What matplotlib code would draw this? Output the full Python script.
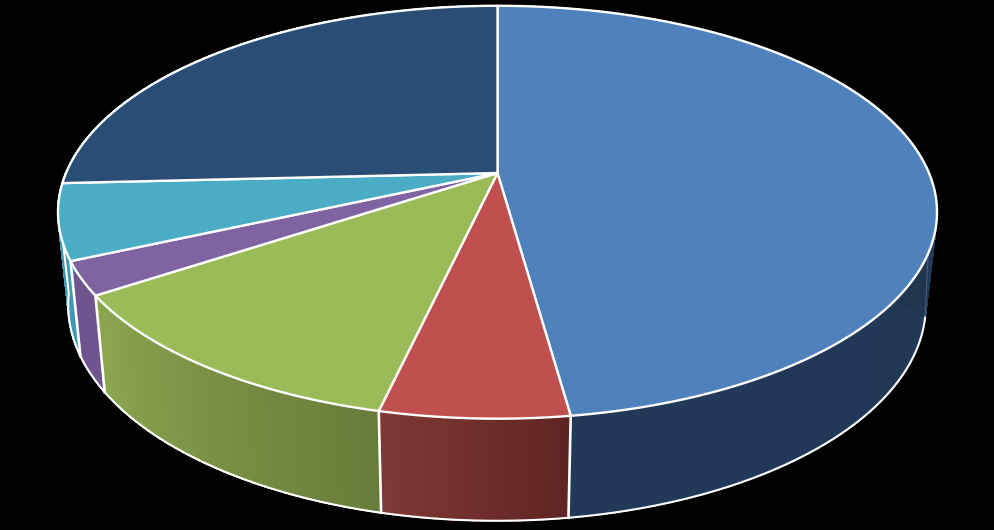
import numpy as np
import matplotlib
matplotlib.use('Agg')
import matplotlib.pyplot as plt

# share of each slice, clockwise from 12 o'clock
labels = ['a', 'b', 'c', 'd', 'e', 'f']
values = [47.8, 5.8, 12.1, 2.6, 5.9, 25.8]
top_colors = ['#4F81BD', '#C0504D', '#9BBB59', '#8064A2', '#4BACC6', '#2A4D75']
side_left = ['#22395A', '#7F3835', '#8CA750', '#6F5490', '#3F97B0', '#3F97B0']
side_right = ['#1F3550', '#5F2522', '#687B3A', '#6F5490', '#3F97B0', '#3F97B0']

W, H = 994, 530


def project(ang, r=1.0, bottom=False):
    u = r * np.sin(ang)
    v = r * np.cos(ang)
    k = 0.19
    if bottom:
        x = 497 + 421 * u / (1 + k * v)
        y = 264 - 208 * v / (1 + k * v)
    else:
        x = 497.5 + 431.5 * u / (1 + k * v)
        y = 173 - 199 * v / (1 + k * v)
    return x, y


def mix(c1, c2, t):
    a = np.array(matplotlib.colors.to_rgb(c1))
    b = np.array(matplotlib.colors.to_rgb(c2))
    return a + (b - a) * t


fig = plt.figure(figsize=(W / 100, H / 100), dpi=100, facecolor='black')
ax = fig.add_axes([0, 0, 1, 1])
ax.set_xlim(0, W)
ax.set_ylim(H, 0)
ax.axis('off')

edges = np.radians(np.concatenate([[0], np.cumsum(values)]) * 3.6)

# outer wall, strips so the shading runs across each slice
for i in range(len(values)):
    a0, a1 = edges[i], edges[i + 1]
    n = max(int(np.degrees(a1 - a0)), 2)
    ts = np.linspace(0, 1, n + 1)
    for j in range(n):
        seg = np.linspace(a0 + (a1 - a0) * ts[j], a0 + (a1 - a0) * ts[j + 1], 4)
        xt, yt = project(seg)
        xb, yb = project(seg, bottom=True)
        # left of the slice is its far (clockwise) end
        col = mix(side_right[i], side_left[i], (j + 0.5) / n)
        ax.fill(np.r_[xt, xb[::-1]], np.r_[yt, yb[::-1]], color=col, lw=0.8,
                antialiased=False, zorder=2)

# fill out the right hand silhouette, tangent from top rim to bottom rim
xr, yr = project(np.radians(92.0))
xr0, yr0 = project(np.radians(125.0))
xq, yq = project(np.radians(104.0), bottom=True)
ax.fill([xr, xq, xr0], [yr, yq, yr0], color=side_right[0], lw=0.8, zorder=2)

# bottom rim running up into the top face at both sides
seg = np.radians(np.linspace(104, 262, 300))
xb, yb = project(seg, bottom=True)
xl, yl = project(np.radians(262.0))
ax.plot(np.r_[xb, xl], np.r_[yb, yl], color='white', lw=1.5, zorder=3)
ax.plot([xr, xb[0]], [yr, yb[0]], color='#4A5E78', lw=0.8, zorder=3)

# wall joints
for a in edges[1:5]:
    xt, yt = project(a)
    xb, yb = project(a, bottom=True)
    ax.plot([xt, xb], [yt, yb], color='white', lw=1.9, zorder=3)

# top face
cx, cy = project(0.0, r=0.0)
for i in range(len(values)):
    seg = np.linspace(edges[i], edges[i + 1], 200)
    x, y = project(seg)
    ax.fill(np.r_[cx, x], np.r_[cy, y], facecolor=top_colors[i], edgecolor='white',
            lw=1.7, joinstyle='round', zorder=4)

fig.savefig('out.png', dpi=100, facecolor='black')
